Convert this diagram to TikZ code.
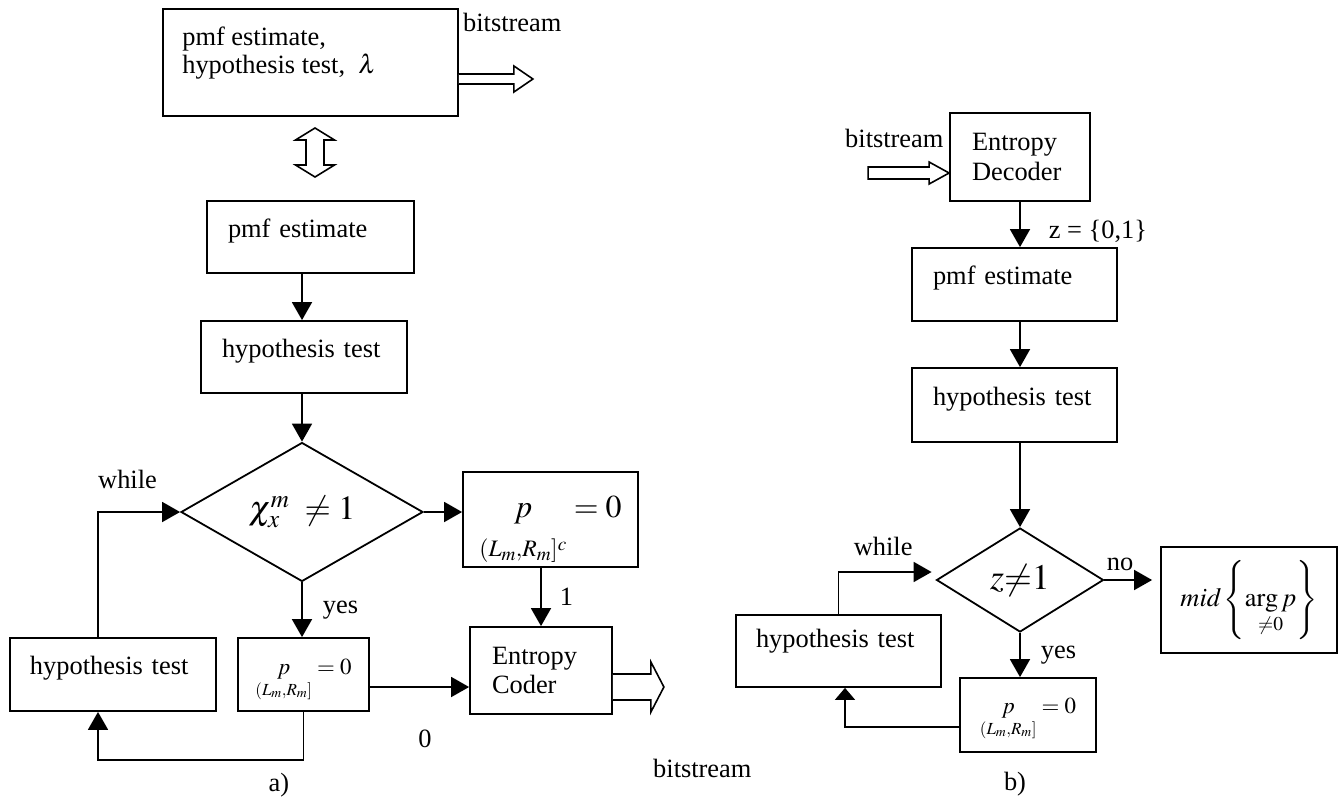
\documentclass[tikz,border=0pt]{standalone}
\usepackage{amsmath}
\usepackage{mathptmx}
\usepackage{fontspec}
\setmainfont{Liberation Serif}
\usetikzlibrary{positioning,arrows.meta,shapes.geometric}

\begin{document}
\begin{tikzpicture}[x=1bp,y=-1bp,
  %%Styles
  every node/.style={font=\fontsize{26.5}{28}\selectfont},
  blk/.style={draw, line width=1.8bp, inner sep=0pt, align=left},
  one/.style={blk, text height=12bp, text depth=12bp},
  cond/.style={draw, diamond, line width=1.8bp, inner sep=0pt},
  eqn/.style={blk, align=center},
  arr/.style={line width=1.8bp, -{Triangle[length=18bp,width=20bp]}},
  harr/.style={line width=1.6bp, fill=white, line join=miter},
  lbl/.style={inner sep=2bp}
]
\useasboundingbox (0,0) rectangle (1340,797);

%%Encoder (a)
\node[blk, minimum width=295bp, minimum height=107bp,
  label={[anchor=north west, inner sep=0pt, xshift=20bp, yshift=-19bp, align=left]north west:{pmf estimate,\\hypothesis test, \ $\lambda$}}] (enc) at (310.5,62.5) {};
\node[lbl, anchor=base west] (bsE) at (461,32) {bitstream};
\coordinate (dbl) at (315,152.5);
\node[one, minimum width=207bp, minimum height=72bp, text width=165bp] (pmfL) at (310.5,237) {pmf estimate};
\node[one, minimum width=206bp, minimum height=72bp, text width=164bp] (hypL) at (304,357) {hypothesis test};
\node[cond, minimum width=242bp, minimum height=127bp, font=\fontsize{34}{40}\selectfont] (dL) at (302,512) {$\chi_x^m\;\neq 1$};
\node[eqn, minimum width=175bp, minimum height=95bp, text height=40bp, text depth=45bp, font=\fontsize{32}{36}\selectfont] (pc) at (550.5,519.5) {$\underset{\rule{0pt}{28bp}(L_m,R_m]^c}{p} = 0$};
\node[one, minimum width=206bp, minimum height=73bp, text width=166bp] (hypLL) at (113,674.5) {hypothesis test};
\node[eqn, minimum width=131bp, minimum height=73bp, text height=20bp, text depth=21bp, font=\fontsize{23}{26}\selectfont] (py) at (303.5,674.5) {$\underset{(L_m,R_m]}{p} = 0$};
\node[blk, minimum width=142bp, minimum height=87bp, text width=98bp, font=\fontsize{26.5}{30}\selectfont] (cod) at (541,670.5) {Entropy\\Coder};
\node[lbl, anchor=base] (zero) at (425,747) {0};
\node[lbl, anchor=base west] (bsC) at (651,777) {bitstream};
\node[lbl, anchor=base] (capa) at (279,791) {a)};

%%Decoder (b)
\node[blk, minimum width=140bp, minimum height=88bp, text width=96bp, font=\fontsize{26.5}{30}\selectfont] (dec) at (1020,157) {Entropy\\Decoder};
\node[lbl, anchor=base west] (bsD) at (843,147) {bitstream};
\node[one, minimum width=205bp, minimum height=73bp, text width=163bp] (pmfR) at (1014.5,284.5) {pmf estimate};
\node[one, minimum width=205bp, minimum height=74bp, text width=163bp] (hypR) at (1014.5,405) {hypothesis test};
\node[cond, minimum width=167bp, minimum height=104bp, font=\fontsize{36}{40}\selectfont] (dR) at (1020,580) {$z{\neq}1$};
\node[eqn, minimum width=176bp, minimum height=106bp] (mid) at (1249,600) {$\mathit{mid}\left\{\underset{\neq 0}{\arg p}\right\}$};
\node[one, minimum width=205bp, minimum height=72bp, text width=165bp, text depth=20bp] (hypRL) at (838.5,651) {hypothesis test};
\node[eqn, minimum width=136bp, minimum height=74bp, text height=20bp, text depth=24bp, font=\fontsize{23}{26}\selectfont] (pz) at (1028,715) {$\underset{(L_m,R_m]}{p} = 0$};
\node[lbl, anchor=base] (capb) at (1015,790) {b)};

%%Hollow arrows
\draw[harr] (enc.east) ++(0,21.5) -- ++(55,0) -- ++(0,8) -- ++(19,-13) -- ++(-19,-13) -- ++(0,8) -- ++(-55,0);
\draw[harr] (dbl) ++(0,-24.5) -- ++(19.5,12) -- ++(-10.5,0) -- ++(0,25) -- ++(10.5,0) -- ++(-19.5,12)
  -- ++(-19.5,-12) -- ++(10.5,0) -- ++(0,-25) -- ++(-10.5,0) -- cycle;
\draw[harr] (cod.east) ++(0,29.5) -- ++(38,0) -- ++(0,12) -- ++(13,-25) -- ++(-13,-25) -- ++(0,12) -- ++(-38,0);
\draw[harr] (dec.west) ++(0,16) -- ++(-20,-11) -- ++(0,5) -- ++(-61,0) -- ++(0,12) -- ++(61,0) -- ++(0,5) -- cycle;

%%Connectors (a)
\draw[arr] (pmfL.south -| dL.north) -- (dL.north |- hypL.north);
\draw[arr] (hypL.south -| dL.north) -- (dL.north);
\draw[arr] (dL.east) -- (dL.east -| pc.west);
\draw[arr] (pc.south -| cod.north) -- (cod.north) node[lbl, midway, right=16bp] {1};
\draw[arr] (dL.south) -- (dL.south |- py.north) node[lbl, midway, right=18bp] {yes};
\draw[arr] ([yshift=-12.5bp]py.east) -- ([yshift=-12.5bp]py.east -| cod.west);
\draw[arr] (py.south) -- ++(0,48) -| ([xshift=-15bp]hypLL.south);
\draw[arr] ([xshift=-15bp]hypLL.north) |- (dL.west) node[lbl, pos=0.68, above=20bp] {while};

%%Connectors (b)
\draw[arr] (dec.south) -- (dec.south |- pmfR.north) node[lbl, pos=0.65, right=26bp] {z = \{0,1\}};
\draw[arr] (pmfR.south -| dec.south) -- (dec.south |- hypR.north);
\draw[arr] (hypR.south -| dR.north) -- (dR.north);
\draw[arr] (dR.east) -- ([xshift=-8bp]dR.east -| mid.west) node[lbl, pos=0.33, above=6bp] {no};
\draw[arr] (dR.south) -- (dR.south |- pz.north) node[lbl, midway, right=18bp] {yes};
\draw[arr] (hypRL.north) |- ([xshift=-4bp, yshift=8bp]dR.west) node[lbl, pos=0.74, above=13bp] {while};
\draw[arr, -{Triangle[length=12bp,width=20bp]}] ([yshift=-12bp]pz.west) -| ([xshift=6.5bp]hypRL.south);
\end{tikzpicture}
\end{document}
